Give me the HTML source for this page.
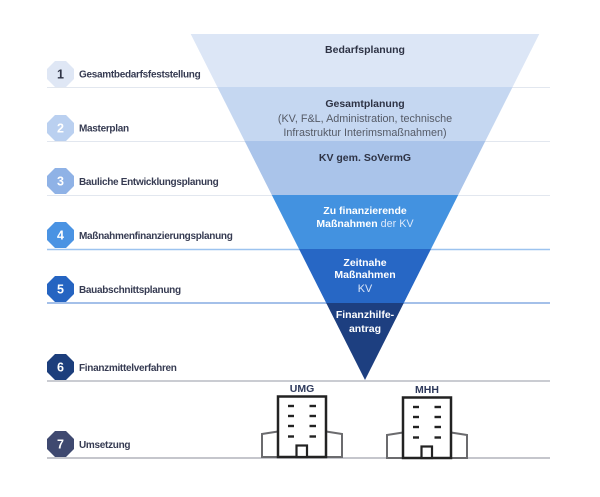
<!DOCTYPE html>
<html><head><meta charset="utf-8"><style>
html,body{margin:0;padding:0;background:#fff;}
svg{display:block;}
text{font-family:"Liberation Sans",Arial,sans-serif;}
.lbl{font-size:10px;font-weight:bold;fill:#363b52;letter-spacing:-0.3px;}
.num{font-size:12.5px;font-weight:bold;fill:#fff;}
.ft{font-size:10.5px;font-weight:bold;}
.fr{font-size:10.8px;}
</style></head><body>
<svg width="600" height="497" viewBox="0 0 600 497" xmlns="http://www.w3.org/2000/svg">
<!-- row lines -->
<line x1="47" y1="87.5" x2="550" y2="87.5" stroke="#e2e7ef" stroke-width="1"/>
<line x1="47" y1="141.5" x2="550" y2="141.5" stroke="#e2e7ef" stroke-width="1"/>
<line x1="47" y1="195.5" x2="550" y2="195.5" stroke="#e2e7ef" stroke-width="1"/>
<line x1="47" y1="249.5" x2="550" y2="249.5" stroke="#9cc3ef" stroke-width="1.5"/>
<line x1="47" y1="303" x2="550" y2="303" stroke="#86abe2" stroke-width="1.5"/>
<line x1="47" y1="381" x2="550" y2="381" stroke="#b8bbc3" stroke-width="1.5"/>
<line x1="47" y1="458" x2="550" y2="458" stroke="#b2b4bc" stroke-width="1.5"/>

<!-- funnel bands -->
<polygon points="190.7,34 539.3,34 512.6,87 217.4,87" fill="#dce6f6"/>
<polygon points="217.4,87 512.6,87 485.4,141 244.6,141" fill="#c5d7f1"/>
<polygon points="244.6,141 485.4,141 458.2,195 271.8,195" fill="#aac4ea"/>
<polygon points="271.8,195 458.2,195 431,249 299,249" fill="#4392e0"/>
<polygon points="299,249 431,249 403.8,303 326.2,303" fill="#2767c5"/>
<polygon points="326.2,303 403.8,303 365,380" fill="#1d3f80"/>

<!-- funnel text -->
<text x="365" y="53" text-anchor="middle" class="ft" fill="#2e3345">Bedarfsplanung</text>
<text x="365" y="107" text-anchor="middle" class="ft" fill="#2e3345">Gesamtplanung</text>
<text x="365" y="122" text-anchor="middle" class="fr" fill="#555a66">(KV, F&amp;L, Administration, technische</text>
<text x="365" y="136" text-anchor="middle" class="fr" fill="#555a66">Infrastruktur Interimsmaßnahmen)</text>
<text x="365" y="161" text-anchor="middle" class="ft" fill="#2e3345">KV gem. SoVermG</text>
<text x="365" y="214" text-anchor="middle" class="ft" fill="#fff">Zu finanzierende</text>
<text x="365" y="227" text-anchor="middle" fill="#fff"><tspan class="ft">Maßnahmen</tspan><tspan class="fr" fill="#dbe8fa"> der KV</tspan></text>
<text x="365" y="266" text-anchor="middle" class="ft" fill="#fff">Zeitnahe</text>
<text x="365" y="278" text-anchor="middle" class="ft" fill="#fff">Maßnahmen</text>
<text x="365" y="292" text-anchor="middle" class="fr" fill="#dbe6f8">KV</text>
<text x="365" y="318" text-anchor="middle" class="ft" fill="#fff">Finanzhilfe-</text>
<text x="365" y="332" text-anchor="middle" class="ft" fill="#fff">antrag</text>

<!-- octagons -->
<g>
<polygon points="55,61 66,61 74,69 74,79 66,87 55,87 47,79 47,69" fill="#dfe7f5"/>
<text x="60.5" y="78.5" text-anchor="middle" class="num" style="fill:#2e3345">1</text>
<polygon points="55,115 66,115 74,123 74,133 66,141 55,141 47,133 47,123" fill="#bad0f0"/>
<text x="60.5" y="132.5" text-anchor="middle" class="num">2</text>
<polygon points="55,168 66,168 74,176 74,186 66,194 55,194 47,186 47,176" fill="#8fb2e6"/>
<text x="60.5" y="185.5" text-anchor="middle" class="num">3</text>
<polygon points="55,222 66,222 74,230 74,240 66,248 55,248 47,240 47,230" fill="#4a93e3"/>
<text x="60.5" y="239.5" text-anchor="middle" class="num">4</text>
<polygon points="55,276 66,276 74,284 74,294 66,302 55,302 47,294 47,284" fill="#2564c1"/>
<text x="60.5" y="293.5" text-anchor="middle" class="num">5</text>
<polygon points="55,354 66,354 74,362 74,372 66,380 55,380 47,372 47,362" fill="#1c3e7c"/>
<text x="60.5" y="371.5" text-anchor="middle" class="num">6</text>
<polygon points="55,431 66,431 74,439 74,449 66,457 55,457 47,449 47,439" fill="#3f4970"/>
<text x="60.5" y="448.5" text-anchor="middle" class="num">7</text>
</g>

<!-- labels -->
<text x="79" y="77.5" class="lbl">Gesamtbedarfsfeststellung</text>
<text x="79" y="131.5" class="lbl">Masterplan</text>
<text x="79" y="185" class="lbl">Bauliche Entwicklungsplanung</text>
<text x="79" y="239" class="lbl">Maßnahmenfinanzierungsplanung</text>
<text x="79" y="293" class="lbl">Bauabschnittsplanung</text>
<text x="79" y="371" class="lbl">Finanzmittelverfahren</text>
<text x="79" y="448" class="lbl">Umsetzung</text>

<!-- buildings -->
<text x="302" y="392" text-anchor="middle" class="ft" fill="#2f3a5c">UMG</text>
<g fill="none" stroke="#6b6b6e" stroke-width="2">
<polyline points="278,431.5 262,434 262,457 278,457"/>
<polyline points="326,431.5 342,434 342,457 326,457"/>
</g>
<rect x="278" y="396.5" width="48" height="60.5" fill="#fff" stroke="#222" stroke-width="2.5"/>
<rect x="296.5" y="445.5" width="10.5" height="11.5" fill="#fff" stroke="#222" stroke-width="2.2"/>
<g stroke="#222" stroke-width="2.4">
<line x1="288" y1="406" x2="294" y2="406"/><line x1="309.5" y1="406" x2="316" y2="406"/>
<line x1="288" y1="416" x2="294" y2="416"/><line x1="309.5" y1="416" x2="316" y2="416"/>
<line x1="288" y1="426" x2="294" y2="426"/><line x1="309.5" y1="426" x2="316" y2="426"/>
<line x1="288" y1="436.5" x2="294" y2="436.5"/><line x1="309.5" y1="436.5" x2="316" y2="436.5"/>
</g>

<text x="427" y="393" text-anchor="middle" class="ft" fill="#2f3a5c">MHH</text>
<g fill="none" stroke="#6b6b6e" stroke-width="2">
<polyline points="403,432.5 387,435 387,458 403,458"/>
<polyline points="451,432.5 467,435 467,458 451,458"/>
</g>
<rect x="403" y="397.5" width="48" height="60.5" fill="#fff" stroke="#222" stroke-width="2.5"/>
<rect x="421.5" y="446.5" width="10.5" height="11.5" fill="#fff" stroke="#222" stroke-width="2.2"/>
<g stroke="#222" stroke-width="2.4">
<line x1="413" y1="407" x2="419" y2="407"/><line x1="434.5" y1="407" x2="441" y2="407"/>
<line x1="413" y1="417" x2="419" y2="417"/><line x1="434.5" y1="417" x2="441" y2="417"/>
<line x1="413" y1="427" x2="419" y2="427"/><line x1="434.5" y1="427" x2="441" y2="427"/>
<line x1="413" y1="437.5" x2="419" y2="437.5"/><line x1="434.5" y1="437.5" x2="441" y2="437.5"/>
</g>
</svg>
</body></html>
